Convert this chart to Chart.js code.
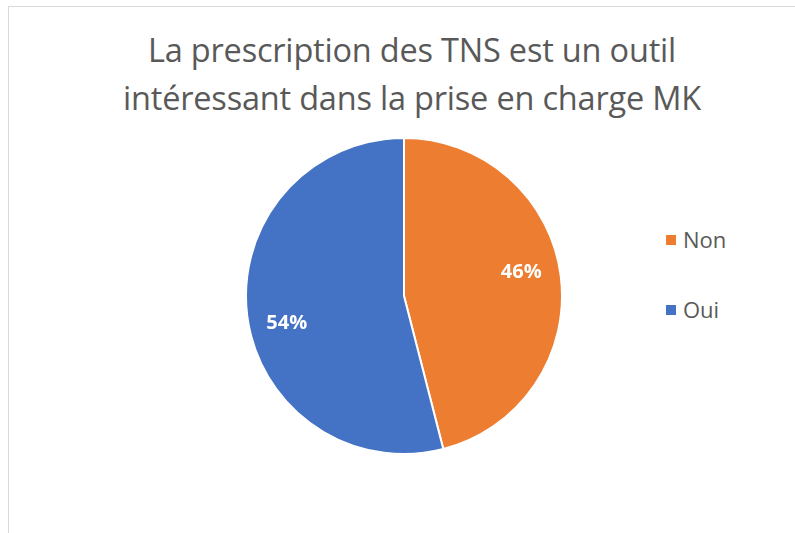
<!DOCTYPE html>
<html>
<head>
<meta charset="utf-8">
<script src="https://cdn.jsdelivr.net/npm/chart.js@4"></script>
<style>
    body { margin: 0; background: #fff; }
    #frame { position: absolute; left: 8px; top: 6px; width: 800px; height: 540px; border: 1.5px solid #d9d9d9; box-sizing: border-box; }
    #title { position: absolute; left: 8px; top: 26px; width: 808px; text-align: center; font-family: "Open Sans", sans-serif; font-size: 32.5px; line-height: 48px; color: #595959; letter-spacing: -0.2px; }
    #pie-box { position: absolute; left: 245px; top: 137px; width: 318px; height: 318px; }
    .legend-item { position: absolute; left: 666px; font-family: "Open Sans", sans-serif; font-size: 22px; color: #595959; }
    .legend-item span { display: inline-block; width: 10px; height: 10px; margin-right: 7px; vertical-align: 3px; }
</style>
</head>
<body>
<div id="frame"></div>
<div id="title">La prescription des TNS est un outil<br>intéressant dans la prise en charge MK</div>
<div id="pie-box"><canvas id="pieChart"></canvas></div>
<div id="legend"></div>
<script>
// --- datos ---
const categories = ['Non', 'Oui'];
const percentValues = [46, 54];
const sliceColors = ['#ED7D31', '#4472C4'];
const legendTops = [224, 294];

// leyenda en HTML (Excel la pone a la derecha, muy espaciada)
const legendEl = document.getElementById('legend');
categories.forEach((c, i) => {
    const div = document.createElement('div');
    div.className = 'legend-item';
    div.style.top = legendTops[i] + 'px';
    div.innerHTML = `<span style="background:${sliceColors[i]}"></span>${c}`;
    legendEl.appendChild(div);
});

// etiquetas de porcentaje dentro de cada porción
const sliceLabels = {
    id: 'sliceLabels',
    afterDatasetsDraw(chart) {
        const { ctx } = chart;
        const meta = chart.getDatasetMeta(0);
        ctx.save();
        ctx.fillStyle = '#fff';
        ctx.font = 'bold 20px "Open Sans", sans-serif';
        ctx.textAlign = 'center';
        ctx.textBaseline = 'middle';
        meta.data.forEach((arc, i) => {
            const { x, y, startAngle, endAngle, outerRadius } = arc.getProps(['x', 'y', 'startAngle', 'endAngle', 'outerRadius'], true);
            const mid = (startAngle + endAngle) / 2 - 0.09; // Excel lo corre un poco
            const r = outerRadius * 0.76;
            ctx.fillText(percentValues[i] + '%', x + Math.cos(mid) * r, y + Math.sin(mid) * r + 2);
        });
        ctx.restore();
    }
};

const ctx = document.getElementById('pieChart').getContext('2d');
new Chart(ctx, {
    type: 'pie',
    data: { labels: categories, datasets: [{ data: percentValues, backgroundColor: sliceColors, borderColor: '#fff', borderWidth: 2 }] },
    options: {
        responsive: true, maintainAspectRatio: false, animation: false,
        layout: { padding: 0 },
        plugins: { legend: { display: false }, tooltip: { enabled: false } }
    },
    plugins: [sliceLabels]
});
</script>
</body>
</html>
